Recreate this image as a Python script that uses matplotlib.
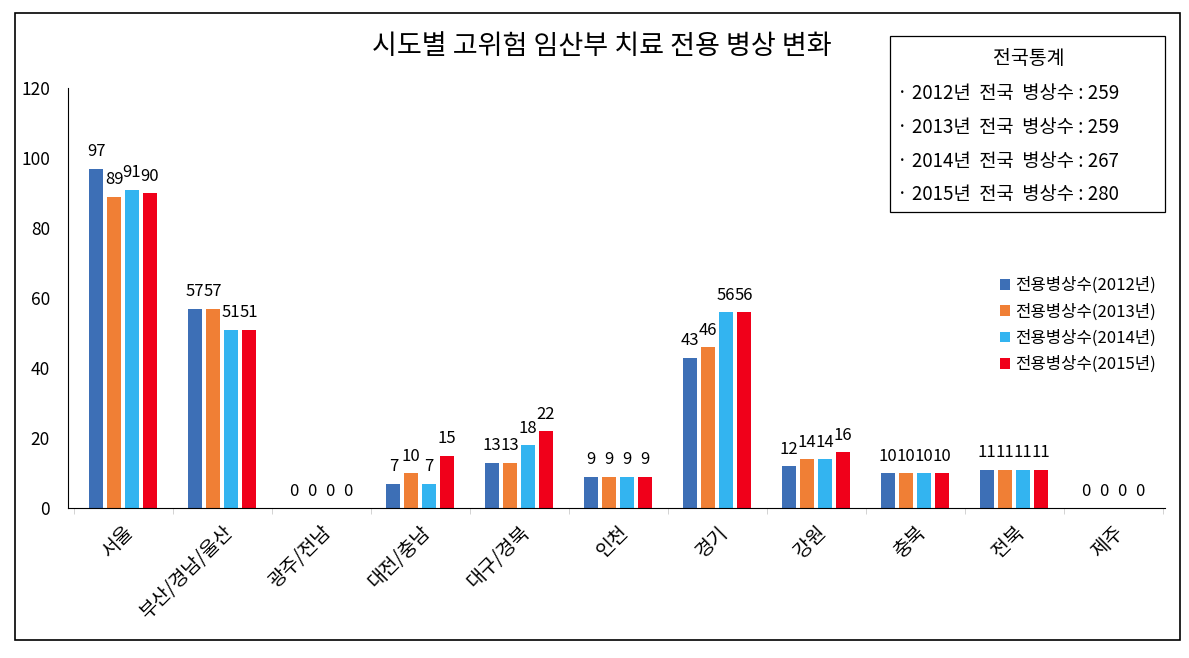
import matplotlib.pyplot as plt
import numpy as np
from matplotlib.patches import Rectangle

plt.rcParams['font.family'] = ['Noto Sans CJK KR', 'DejaVu Sans']

regions = ["서울", "부산/경남/울산", "광주/전남", "대전/충남", "대구/경북", "인천",
           "경기", "강원", "충북", "전북", "제주"]
beds_2012 = [97, 57, 0, 7, 13, 9, 43, 12, 10, 11, 0]
beds_2013 = [89, 57, 0, 10, 13, 9, 46, 14, 10, 11, 0]
beds_2014 = [91, 51, 0, 7, 18, 9, 56, 14, 10, 11, 0]
beds_2015 = [90, 51, 0, 15, 22, 9, 56, 16, 10, 11, 0]
series_names = ["전용병상수(2012년)", "전용병상수(2013년)", "전용병상수(2014년)", "전용병상수(2015년)"]
colors = ["#3D6FB6", "#F07F35", "#33B4F0", "#F0001A"]
national_years = ["2012", "2013", "2014", "2015"]
national_totals = [259, 259, 267, 280]

fig = plt.figure(figsize=(11.89, 6.58), dpi=100)
# outer frame
fig.patches.append(Rectangle((15/1189, 1 - 640/658), 1165/1189, 627/658, transform=fig.transFigure,
                             fill=False, edgecolor='black', linewidth=1.2))

ax = fig.add_axes([68/1189, 1 - 508/658, 1097/1189, 420/658])
x = np.arange(len(regions))
width = 0.14
step = 0.18
all_series = [beds_2012, beds_2013, beds_2014, beds_2015]
for i, (vals, name, c) in enumerate(zip(all_series, series_names, colors)):
    pos = x + (i - 1.5) * step
    ax.bar(pos, vals, width=width, color=c, label=name)
    for p, v in zip(pos, vals):
        ax.annotate(str(v), (p, v), xytext=(0, 6), textcoords='offset points',
                    ha='center', va='bottom', fontsize=12)

ax.set_xlim(-0.556, 10.525)
ax.set_ylim(0, 120)
ax.set_yticks(range(0, 121, 20))
ax.tick_params(axis='y', length=0, labelsize=12.5, pad=13)
ax.set_xticks(x)
ax.set_xticklabels(regions, rotation=45, ha='right', rotation_mode='anchor', fontsize=14)
ax.tick_params(axis='x', length=0, pad=10)
ax.set_xticks(np.arange(-0.5, len(regions), 1), minor=True)
ax.tick_params(axis='x', which='minor', length=4, color='#cccccc')
ax.spines['top'].set_visible(False)
ax.spines['right'].set_visible(False)

fig.text(602/1189, 1 - 47/658, "시도별 고위험 임산부 치료 전용 병상 변화", ha='center', va='center', fontsize=19.5)

# national statistics box
fig.patches.append(Rectangle((890/1189, 1 - 212/658), 275/1189, 176/658, transform=fig.transFigure,
                             fill=False, edgecolor='black', linewidth=0.9))
fig.text(1029/1189, 1 - 58/658, "전국통계", ha='center', va='center', fontsize=14)
for i, (yr, tot) in enumerate(zip(national_years, national_totals)):
    fig.text(897/1189, 1 - (94 + i * 33.5)/658, f"· {yr}년  전국  병상수 : {tot}",
             ha='left', va='center', fontsize=13.5)

ax.legend(loc='upper left', bbox_to_anchor=(985/1189, 1 - 262/658), bbox_transform=fig.transFigure,
          frameon=False, fontsize=12, handlelength=0.6, handleheight=0.6, handletextpad=0.3,
          labelspacing=0.55)

fig.savefig("out.png", dpi=100)
